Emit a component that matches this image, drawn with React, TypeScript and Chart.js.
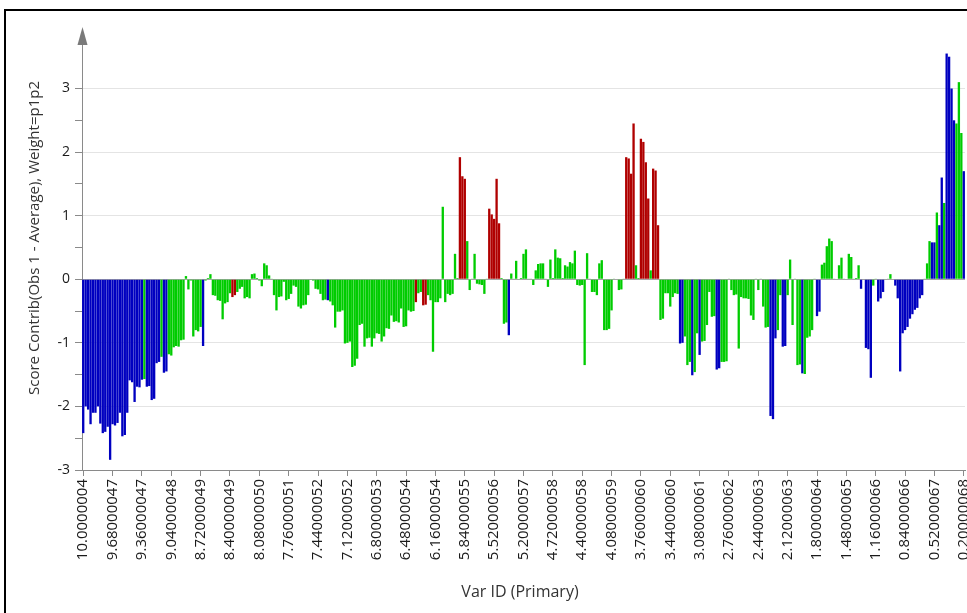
import React, { useEffect, useRef } from "react";
import { Chart, registerables } from "chart.js";

Chart.register(...registerables);

// Tick labels shown on the category axis (one every 12 variables)
const tickLabels = [
  "10.0000004", "9.68000047", "9.36000047", "9.04000048", "8.72000049", "8.40000049",
  "8.08000050", "7.76000051", "7.44000052", "7.12000052", "6.80000053", "6.48000054",
  "6.16000054", "5.84000055", "5.52000056", "5.20000057", "4.72000058", "4.40000058",
  "4.08000059", "3.76000060", "3.44000060", "3.08000061", "2.76000062", "2.44000063",
  "2.12000063", "1.80000064", "1.48000065", "1.16000066", "0.84000066", "0.52000067",
  "0.20000068",
];
const labelEvery = 12;

// Score contribution per variable
const scoreContrib = [
  -2.42, -2.0, -2.05, -2.28, -2.1, -2.1, -2.0, -2.27, -2.42, -2.4,
  -2.32, -2.84, -2.28, -2.3, -2.26, -2.1, -2.47, -2.45, -2.1, -1.59,
  -1.62, -1.93, -1.69, -1.7, -1.58, -1.57, -1.69, -1.68, -1.9, -1.88,
  -1.32, -1.3, -1.22, -1.47, -1.45, -1.18, -1.2, -1.07, -1.05, -1.06,
  -0.96, -0.95, 0.05, -0.16, -0.02, -0.9, -0.8, -0.82, -0.75, -1.05,
  -0.02, 0.02, 0.08, -0.25, -0.26, -0.33, -0.34, -0.63, -0.38, -0.36,
  -0.22, -0.28, -0.25, -0.2, -0.15, -0.12, -0.3, -0.28, -0.3, 0.08,
  0.09, 0.02, -0.02, -0.11, 0.25, 0.22, 0.06, 0.01, -0.25, -0.49,
  -0.28, -0.27, -0.04, -0.33, -0.31, -0.23, -0.1, -0.12, -0.43, -0.46,
  -0.41, -0.4, -0.25, -0.01, -0.02, -0.15, -0.16, -0.23, -0.33, -0.32,
  -0.33, -0.35, -0.41, -0.76, -0.51, -0.51, -0.49, -1.01, -1.0, -0.98,
  -1.38, -1.36, -1.25, -0.72, -0.7, -1.06, -0.93, -0.92, -1.06, -0.93,
  -0.85, -0.86, -0.98, -0.9, -0.77, -0.78, -0.57, -0.67, -0.66, -0.68,
  -0.46, -0.75, -0.74, -0.49, -0.51, -0.5, -0.36, -0.22, -0.2, -0.41,
  -0.4, -0.25, -0.33, -1.14, -0.36, -0.36, -0.3, 1.14, -0.36, -0.23,
  -0.25, -0.23, 0.4, 0.02, 1.92, 1.62, 1.58, 0.6, -0.17, 0.01,
  0.4, -0.07, -0.08, -0.09, -0.23, 0.01, 1.11, 1.02, 0.95, 1.58,
  0.88, 0.02, -0.7, -0.68, -0.88, 0.09, 0.01, 0.29, 0.0, 0.02,
  0.4, 0.47, 0.01, 0.01, -0.09, 0.14, 0.24, 0.25, 0.25, 0.01,
  -0.12, 0.31, 0.02, 0.47, 0.34, 0.33, 0.02, 0.22, 0.2, 0.27,
  0.25, 0.45, -0.09, -0.1, -0.09, -1.35, 0.41, 0.01, -0.2, -0.2,
  -0.25, 0.25, 0.3, -0.8, -0.8, -0.78, -0.49, 0.01, 0.0, -0.17,
  -0.16, 0.01, 1.92, 1.9, 1.66, 2.45, 0.22, 0.02, 2.21, 2.16,
  1.84, 1.27, 0.14, 1.74, 1.71, 0.85, -0.64, -0.62, -0.22, -0.22,
  -0.43, -0.28, -0.22, -0.23, -1.01, -1.0, -0.9, -1.35, -1.3, -1.51,
  -1.46, -0.85, -1.19, -0.98, -0.97, -0.72, -0.2, -0.59, -0.58, -1.42,
  -1.4, -1.3, -1.3, -1.29, 0.01, -0.17, -0.25, -0.24, -1.09, -0.28,
  -0.3, -0.3, -0.31, -0.57, -0.64, 0.01, -0.17, 0.01, -0.43, -0.76,
  -0.75, -2.15, -2.2, -0.93, -0.8, -0.25, -1.06, -1.05, -0.25, 0.31,
  -0.72, 0.01, -1.35, -1.34, -1.48, -1.49, -0.92, -0.9, -0.8, 0.01,
  -0.58, -0.51, 0.23, 0.26, 0.52, 0.64, 0.6, 0.01, 0.0, 0.22,
  0.34, 0.01, 0.0, 0.4, 0.35, 0.01, 0.02, 0.22, -0.15, 0.0,
  -1.08, -1.1, -1.55, -0.1, 0.01, -0.35, -0.3, -0.2, 0.0, 0.01,
  0.08, 0.0, -0.1, -0.3, -1.45, -0.85, -0.8, -0.75, -0.62, -0.55,
  -0.48, -0.45, -0.3, -0.25, 0.01, 0.25, 0.6, 0.58, 0.58, 1.05,
  0.85, 1.6, 1.2, 3.55, 3.5, 3.0, 2.5, 2.45, 3.1, 2.3,
  1.7,
];

// Variable index runs [first, last] drawn in blue and in red; all others are green
const blueRuns = [
  [0, 24], [26, 31], [33, 34], [49, 49], [100, 100], [174, 174],
  [244, 245], [249, 249], [252, 252], [259, 260], [281, 283], [286, 287],
  [294, 294], [300, 301], [318, 318], [320, 322], [325, 327], [332, 343],
  [347, 348], [350, 351], [353, 356], [360, 360],
];
const redRuns = [
  [61, 62], [136, 136], [139, 140], [154, 156], [166, 170],
  [222, 225], [228, 231], [233, 235],
];

const BLUE = "#0000c0";
const GREEN = "#00cc00";
const RED = "#b00000";

const yMin = -3;
const yMax = 3.7;
const yTitle = "Score Contrib(Obs 1 - Average), Weight=p1p2";
const xTitle = "Var ID (Primary)";

const FONT = '"Open Sans", "Noto Sans", sans-serif';

function inRuns(i: number, runs: number[][]) {
  return runs.some(([a, b]) => i >= a && i <= b);
}

export default function App() {
  const ref = useRef<HTMLCanvasElement>(null);

  useEffect(() => {
    const canvas = ref.current;
    if (!canvas) return;

    const colors = scoreContrib.map((_, i) =>
      inRuns(i, blueRuns) ? BLUE : inRuns(i, redRuns) ? RED : GREEN
    );

    const decor = {
      id: "decor",
      afterDraw(chart: any) {
        const { ctx, chartArea } = chart;
        ctx.save();
        const ax = Math.round(chartArea.left) + 0.5;
        ctx.fillStyle = "#7a7a7a";
        ctx.beginPath();
        ctx.moveTo(ax, chartArea.top - 17);
        ctx.lineTo(ax - 5, chartArea.top + 1);
        ctx.lineTo(ax + 5, chartArea.top + 1);
        ctx.closePath();
        ctx.fill();
        ctx.fillStyle = "#333333";
        ctx.textAlign = "center";
        ctx.textBaseline = "middle";
        ctx.font = `15px ${FONT}`;
        ctx.translate(35, 238);
        ctx.rotate(-Math.PI / 2);
        ctx.fillText(yTitle, 0, 0);
        ctx.restore();
        ctx.save();
        ctx.fillStyle = "#333333";
        ctx.textAlign = "center";
        ctx.textBaseline = "middle";
        ctx.font = `16px ${FONT}`;
        ctx.fillText(xTitle, 520, 592);
        ctx.restore();
      },
    };

    const chart = new Chart(canvas, {
      type: "bar",
      data: {
        labels: scoreContrib.map((_, i) => String(i)),
        datasets: [
          {
            data: scoreContrib,
            backgroundColor: colors,
            borderWidth: 0,
            barPercentage: 0.95,
            categoryPercentage: 1,
          },
        ],
      },
      options: {
        animation: false,
        responsive: false,
        maintainAspectRatio: false,
        layout: { padding: { left: 0, top: 44, right: 2, bottom: 0 } },
        plugins: {
          legend: { display: false },
          tooltip: { enabled: false },
        },
        scales: {
          x: {
            offset: true,
            afterFit: (s: any) => {
              s.height = 143;
              s.paddingLeft = 0;
              s.paddingRight = 0;
            },
            grid: {
              offset: false,
              drawOnChartArea: false,
              tickLength: 6,
              tickColor: "#8a8a8a",
            },
            border: { color: "#8a8a8a" },
            ticks: {
              autoSkip: false,
              minRotation: 90,
              maxRotation: 90,
              padding: 3,
              color: "#1a1a1a",
              font: { family: FONT, size: 15 },
              callback: (_v: any, i: number) =>
                i % labelEvery === 0 ? tickLabels[i / labelEvery] : null,
            },
          },
          y: {
            min: yMin,
            max: yMax,
            afterFit: (s: any) => {
              s.width = 82;
              s.paddingTop = 0;
              s.paddingBottom = 0;
            },
            grid: {
              color: (c: any) => {
                const v = c.tick ? c.tick.value : 0;
                if (v === 0) return "#a6a6a6";
                if (Number.isInteger(v)) return "#e4e4e4";
                return "rgba(0,0,0,0)";
              },
              tickColor: "#8a8a8a",
              tickLength: 7,
            },
            border: { color: "#8a8a8a" },
            ticks: {
              stepSize: 0.5,
              autoSkip: false,
              padding: 5,
              color: "#1a1a1a",
              font: { family: FONT, size: 14 },
              callback: (v: any) => {
                const n = Number(v);
                if (!Number.isInteger(n * 2)) return null;
                return Number.isInteger(n) ? String(n) : "";
              },
            },
          },
        },
      },
      plugins: [decor],
    });
    return () => chart.destroy();
  }, []);

  return (
    <div
      style={{
        position: "fixed",
        left: 0,
        top: 0,
        width: 967,
        height: 613,
        background: "#ffffff",
        overflow: "hidden",
      }}
    >
      <div
        style={{
          position: "absolute",
          left: 4,
          top: 9,
          width: 1000,
          height: 700,
          border: "2px solid #000",
        }}
      />
      <canvas
        ref={ref}
        width={967}
        height={613}
        style={{ position: "absolute", left: 0, top: 0, width: 967, height: 613 }}
      />
    </div>
  );
}
